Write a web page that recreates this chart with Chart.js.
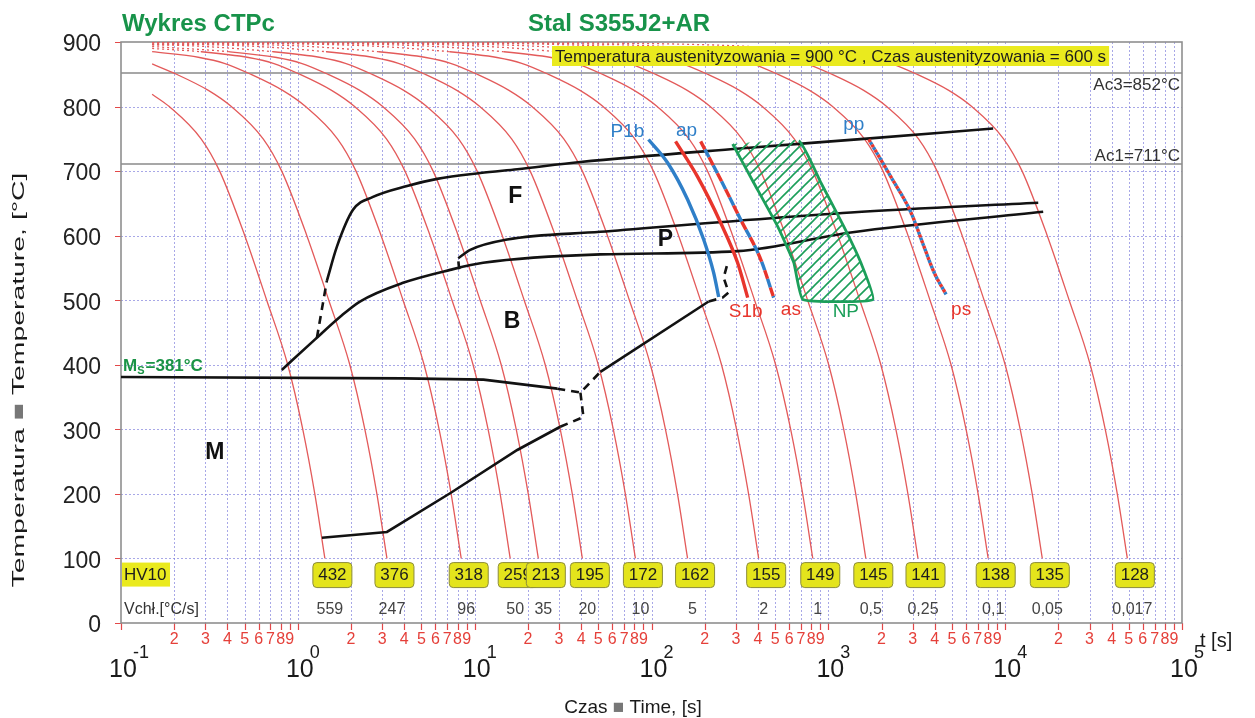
<!DOCTYPE html>
<html lang="pl">
<head>
<meta charset="utf-8">
<title>Wykres CTPc - Stal S355J2+AR</title>
<style>
  html, body { margin: 0; padding: 0; background: #fff; }
  #chart { display: block; }
</style>
</head>
<body>
<canvas id="chart" width="1255" height="718"></canvas>
<script src="https://cdn.jsdelivr.net/npm/chart.js"></script>
<script>
// ---- data: points are [log10(t [s]), T [°C]] ----
const c432 = [[-0.824,819],[-0.727,800],[-0.547,750],[-0.442,700],[-0.300,600],[-0.176,500],[-0.057,400],[0.028,300],[0.096,200],[0.153,100]];
const c376 = [[-0.824,866],[-0.686,850],[-0.506,825],[-0.376,800],[-0.196,750],[-0.091,700],[0.051,600],[0.175,500],[0.294,400],[0.379,300],[0.447,200],[0.504,100]];
const c318 = [[-0.824,885],[-0.556,876],[-0.416,867],[-0.266,850],[-0.086,825],[0.044,800],[0.224,750],[0.329,700],[0.471,600],[0.595,500],[0.714,400],[0.799,300],[0.867,200],[0.924,100]];
const c259 = [[-0.824,890],[-0.549,885],[-0.279,876],[-0.139,867],[0.011,850],[0.191,825],[0.321,800],[0.501,750],[0.606,700],[0.748,600],[0.872,500],[0.991,400],[1.076,300],[1.144,200],[1.201,100]];
const c213 = [[-0.824,893],[-0.39,885],[-0.12,876],[0.02,867],[0.17,850],[0.35,825],[0.48,800],[0.66,750],[0.765,700],[0.907,600],[1.031,500],[1.15,400],[1.235,300],[1.303,200],[1.36,100]];
const c195 = [[-0.824,895.4],[-0.691,895],[-0.141,885],[0.129,876],[0.269,867],[0.419,850],[0.599,825],[0.729,800],[0.909,750],[1.014,700],[1.156,600],[1.28,500],[1.399,400],[1.484,300],[1.552,200],[1.609,100]];
const c172 = [[-0.824,896.3],[-0.391,895],[0.159,885],[0.429,876],[0.569,867],[0.719,850],[0.899,825],[1.029,800],[1.209,750],[1.314,700],[1.456,600],[1.58,500],[1.699,400],[1.784,300],[1.852,200],[1.909,100]];
const c162 = [[-0.824,897.2],[-0.096,895],[0.454,885],[0.724,876],[0.864,867],[1.014,850],[1.194,825],[1.324,800],[1.504,750],[1.609,700],[1.751,600],[1.875,500],[1.994,400],[2.079,300],[2.147,200],[2.204,100]];
const c155 = [[-0.824,898.5],[0.306,895],[0.856,885],[1.126,876],[1.266,867],[1.416,850],[1.596,825],[1.726,800],[1.906,750],[2.011,700],[2.153,600],[2.277,500],[2.396,400],[2.481,300],[2.549,200],[2.606,100]];
const c149 = [[-0.824,899.6],[-0.688,899],[0.612,895],[1.162,885],[1.432,876],[1.572,867],[1.722,850],[1.902,825],[2.032,800],[2.212,750],[2.317,700],[2.459,600],[2.583,500],[2.702,400],[2.787,300],[2.855,200],[2.912,100]];
const c145 = [[-0.824,899.7],[-0.388,899],[0.912,895],[1.462,885],[1.732,876],[1.872,867],[2.022,850],[2.202,825],[2.332,800],[2.512,750],[2.617,700],[2.759,600],[2.883,500],[3.002,400],[3.087,300],[3.155,200],[3.212,100]];
const c141 = [[-0.824,899.8],[-0.093,899],[1.207,895],[1.757,885],[2.027,876],[2.167,867],[2.317,850],[2.497,825],[2.627,800],[2.807,750],[2.912,700],[3.054,600],[3.178,500],[3.297,400],[3.382,300],[3.45,200],[3.507,100]];
const c138 = [[-0.824,899.8],[0.304,899],[1.604,895],[2.154,885],[2.424,876],[2.564,867],[2.714,850],[2.894,825],[3.024,800],[3.204,750],[3.309,700],[3.451,600],[3.575,500],[3.694,400],[3.779,300],[3.847,200],[3.904,100]];
const c135 = [[-0.824,899.9],[0.61,899],[1.91,895],[2.46,885],[2.73,876],[2.87,867],[3.02,850],[3.2,825],[3.33,800],[3.51,750],[3.615,700],[3.757,600],[3.881,500],[4.0,400],[4.085,300],[4.153,200],[4.21,100]];
const c128 = [[-0.824,899.9],[1.091,899],[2.391,895],[2.941,885],[3.211,876],[3.351,867],[3.501,850],[3.681,825],[3.811,800],[3.991,750],[4.096,700],[4.238,600],[4.362,500],[4.481,400],[4.566,300],[4.634,200],[4.691,100]];
const coolingCurves = [c432, c376, c318, c259, c213, c195, c172, c162, c155, c149, c145, c141, c138, c135, c128];
const hardnessHV10 = ['432','376','318','259','213','195','172','162','155','149','145','141','138','135','128'];
const coolingRates = ['559','247','96','50','35','20','10','5','2','1','0,5','0,25','0,1','0,05','0,017'];

// transformation lines
const msLine    = [[-1,381],[0.6,379],[1.05,377],[1.467,363]];
const msDashed  = [[1.467,363],[1.598,357],[1.711,389]];
const bfLine    = [[1.711,389],[2.323,498]];
const bfDashed  = [[2.323,498],[2.402,504],[2.436,512],[2.408,535],[2.431,558]];
const lowLine   = [[0.136,132],[0.504,141],[0.861,201],[1.241,268],[1.484,304]];
const lowDashed = [[1.484,304],[1.615,319],[1.598,357]];
const bsLine    = [[-0.091,392],[0.096,439],[0.238,474],[0.351,498],[0.595,527],[0.861,547],[1.048,558],[1.711,571],[2.487,576],[3.127,605],[4.215,637]];
const pLine     = [[0.907,565],[0.975,578],[1.184,594],[1.711,606],[3.127,636],[4.187,651]];
const pDashed   = [[0.913,548],[0.907,562]];
const fLine     = [[0.164,530],[0.221,583],[0.312,640],[0.425,660],[0.618,677],[0.788,688],[1.031,697],[1.241,703],[1.598,714],[2.5,735],[3.2,750],[3.932,766]];
const fDashed   = [[0.108,442],[0.164,530]];

// toughness / structure lines
const p1bLine = [[1.983,749],[2.091,713],[2.204,656],[2.295,594],[2.351,543],[2.380,505]];
const s1bLine = [[2.136,746],[2.261,691],[2.391,620],[2.487,558],[2.544,504]];
const apLine  = [[2.278,746],[2.391,687],[2.504,625],[2.618,563],[2.691,504]];
const npLeft  = [[2.459,742],[2.578,682],[2.714,614],[2.805,558],[2.856,501]];
const npRight = [[3.252,501],[3.184,558],[3.088,614],[2.958,682],[2.833,747]];
const ppLine  = [[3.229,749],[3.354,691],[3.467,636],[3.541,583],[3.598,543],[3.666,509]];

const acLevels = [852, 711];
const acLabels = ['Ac3=852°C', 'Ac1=711°C'];

const regionLabels = [
  ['F', 1.229, 660, '#111'], ['P', 2.079, 594, '#111'], ['B', 1.212, 467, '#111'], ['M', -0.47, 264, '#111'],
  ['P1b', 1.864, 761, '#2f7fc8'], ['ap', 2.198, 763, '#2f7fc8'], ['pp', 3.144, 772, '#2f7fc8'],
  ['S1b', 2.533, 482, '#e8352c'], ['as', 2.788, 485, '#e8352c'], ['NP', 3.099, 482, '#1c9f5a'], ['ps', 3.751, 485, '#e8352c']
];

// ---- helpers ----
const FONT = '"Liberation Sans", Arial, Helvetica, sans-serif';
const RED = '#e35a5a';
function pts(arr) { return arr.map(p => ({ x: Math.pow(10, p[0]), y: p[1] })); }
function lineSet(arr, color, width, extra) {
  return Object.assign({ data: pts(arr), borderColor: color, borderWidth: width, pointRadius: 0,
    fill: false, cubicInterpolationMode: 'monotone' }, extra || {});
}

function hatchPattern() {
  const c = document.createElement('canvas');
  c.width = 11; c.height = 11;
  const g = c.getContext('2d');
  g.strokeStyle = '#1c9f5a';
  g.lineWidth = 1.6;
  g.beginPath();
  g.moveTo(0, 11); g.lineTo(11, 0);
  g.moveTo(-2, 2); g.lineTo(2, -2);
  g.moveTo(9, 13); g.lineTo(13, 9);
  g.stroke();
  return g.createPattern(c, 'repeat');
}

const datasets = [];
// coloured structure lines on top
datasets.push(lineSet(p1bLine, '#2f7fc8', 3.4, { order: 0 }));
datasets.push(lineSet(s1bLine, '#e8352c', 3.4, { order: 0 }));
datasets.push(lineSet(apLine, '#e8352c', 3.4, { order: 0, borderDash: [9, 9] }));
datasets.push(lineSet(apLine, '#2f7fc8', 3.4, { order: 0, borderDash: [9, 9], borderDashOffset: 9 }));
datasets.push(lineSet(ppLine, '#e8352c', 3.4, { order: 0, borderDash: [3, 3] }));
datasets.push(lineSet(ppLine, '#2f7fc8', 3.4, { order: 0, borderDash: [3, 3], borderDashOffset: 3 }));
const npShape = npLeft.concat(npRight, [npLeft[0]]);
datasets.push({
  data: pts(npShape), borderColor: '#1c9f5a', borderWidth: 2.8, pointRadius: 0, tension: 0.12,
  fill: 'shape', backgroundColor: hatchPattern(), order: 1,
  segment: { borderColor: ctx => ctx.p1DataIndex === npShape.length - 1 ? 'rgba(0,0,0,0)' : undefined }
});
// black transformation lines
const BLACK = '#121212';
[bsLine, pLine, fLine].forEach(a => datasets.push(lineSet(a, BLACK, 2.6, { order: 2 })));
[msLine, bfLine, lowLine].forEach(a => datasets.push(lineSet(a, BLACK, 2.6,
  { order: 2, cubicInterpolationMode: 'default', tension: 0 })));
[msDashed, bfDashed, lowDashed, pDashed, fDashed].forEach(a => datasets.push(lineSet(a, BLACK, 2.6,
  { order: 2, borderDash: [8, 6], cubicInterpolationMode: 'default', tension: 0 })));
// red cooling curves underneath
coolingCurves.forEach(a => datasets.push(lineSet(a, RED, 1.3, {
  order: 3,
  segment: { borderDash: ctx => (ctx.p0.parsed.y >= 884 && ctx.p1.parsed.y >= 884) ? [2, 3] : undefined }
})));

// ---- plugins ----
const background = {
  id: 'background',
  beforeDatasetsDraw(chart) {
    const { ctx, chartArea: a, scales: { x, y } } = chart;
    ctx.save();
    ctx.lineWidth = 1;
    ctx.strokeStyle = 'rgba(110,110,215,0.6)';
    ctx.setLineDash([2, 2]);
    ctx.beginPath();
    for (let e = -1; e < 5; e++) {
      for (let m = 1; m < 10; m++) {
        if (e === -1 && m === 1) continue;
        const xx = Math.round(x.getPixelForValue(m * Math.pow(10, e))) + 0.5;
        ctx.moveTo(xx, a.top); ctx.lineTo(xx, a.bottom);
      }
    }
    for (let T = 100; T < 900; T += 100) {
      const yy = Math.round(y.getPixelForValue(T)) + 0.5;
      ctx.moveTo(a.left, yy); ctx.lineTo(a.right, yy);
    }
    ctx.stroke();
    ctx.setLineDash([]);

    // red tick marks
    ctx.strokeStyle = '#e34848';
    ctx.lineWidth = 1.2;
    ctx.beginPath();
    for (let T = 0; T <= 900; T += 100) {
      const yy = Math.round(y.getPixelForValue(T)) + 0.5;
      ctx.moveTo(a.left - 6, yy); ctx.lineTo(a.left, yy);
    }
    for (let e = -1; e <= 5; e++) {
      for (let m = 1; m < 10; m++) {
        if (e === 5 && m > 1) break;
        const xx = Math.round(x.getPixelForValue(m * Math.pow(10, e))) + 0.5;
        ctx.moveTo(xx, a.bottom); ctx.lineTo(xx, a.bottom + 7);
      }
    }
    ctx.stroke();

    // Ac lines
    ctx.strokeStyle = '#8a8a8a';
    ctx.lineWidth = 1.5;
    ctx.beginPath();
    acLevels.forEach(T => { const yy = y.getPixelForValue(T); ctx.moveTo(a.left, yy); ctx.lineTo(a.right, yy); });
    ctx.stroke();

    // frame
    ctx.strokeStyle = '#8f8f8f';
    ctx.lineWidth = 1.6;
    ctx.strokeRect(a.left, a.top, a.right - a.left, a.bottom - a.top);
    ctx.restore();
  }
};

function roundRect(ctx, x, y, w, h, r) {
  ctx.beginPath();
  ctx.moveTo(x + r, y); ctx.lineTo(x + w - r, y); ctx.quadraticCurveTo(x + w, y, x + w, y + r);
  ctx.lineTo(x + w, y + h - r); ctx.quadraticCurveTo(x + w, y + h, x + w - r, y + h);
  ctx.lineTo(x + r, y + h); ctx.quadraticCurveTo(x, y + h, x, y + h - r);
  ctx.lineTo(x, y + r); ctx.quadraticCurveTo(x, y, x + r, y);
  ctx.closePath();
}

const overlay = {
  id: 'overlay',
  afterDatasetsDraw(chart) {
    const { ctx, chartArea: a, scales: { x, y } } = chart;
    ctx.save();
    // header box
    ctx.font = '17px ' + FONT;
    const head = 'Temperatura austenityzowania = 900 °C , Czas austenityzowania = 600 s';
    const hw = ctx.measureText(head).width;
    ctx.fillStyle = '#eaea1e';
    ctx.fillRect(a.left + 431, a.top + 4, hw + 6, 20);
    ctx.fillStyle = '#1d1d1d';
    ctx.textBaseline = 'middle';
    ctx.textAlign = 'left';
    ctx.fillText(head, a.left + 434, a.top + 15);

    // Ac labels
    ctx.font = '17px ' + FONT;
    ctx.fillStyle = '#333';
    ctx.textAlign = 'right';
    ctx.textBaseline = 'alphabetic';
    ctx.fillText(acLabels[0], a.right - 2, y.getPixelForValue(acLevels[0]) + 17);
    ctx.fillText(acLabels[1], a.right - 2, y.getPixelForValue(acLevels[1]) - 3);

    // region / line labels
    ctx.textAlign = 'center';
    ctx.textBaseline = 'middle';
    regionLabels.forEach(([s, lt, T, col]) => {
      ctx.font = (col === '#111' ? '600 23px ' : '19px ') + FONT;
      ctx.fillStyle = col;
      ctx.fillText(s, x.getPixelForValue(Math.pow(10, lt)), y.getPixelForValue(T));
    });

    // Ms label
    const msY = y.getPixelForValue(381) - 6;
    ctx.textAlign = 'left';
    ctx.textBaseline = 'alphabetic';
    ctx.fillStyle = '#1a9346';
    ctx.font = 'bold 17px ' + FONT;
    ctx.fillText('M', a.left + 2, msY);
    let mx = a.left + 2 + ctx.measureText('M').width;
    ctx.font = 'bold 11px ' + FONT;
    ctx.fillText('S', mx, msY + 3);
    mx += ctx.measureText('S').width + 1;
    ctx.font = 'bold 17px ' + FONT;
    ctx.fillText('=381°C', mx, msY);

    // HV10 row
    const boxY = y.getPixelForValue(75);
    ctx.fillStyle = '#eaea1e';
    ctx.fillRect(a.left + 1, boxY - 12, 48, 24);
    ctx.fillStyle = '#1d1d1d';
    ctx.font = '17px ' + FONT;
    ctx.textBaseline = 'middle';
    ctx.fillText('HV10', a.left + 3, boxY + 1);
    ctx.fillStyle = '#333';
    ctx.font = '16px ' + FONT;
    ctx.fillText('Vchł.[°C/s]', a.left + 3, y.getPixelForValue(21));

    coolingCurves.forEach((c, i) => {
      const end = c[c.length - 1];
      const cx = x.getPixelForValue(Math.pow(10, end[0]));
      roundRect(ctx, cx - 12, boxY - 12, 39, 25, 4);
      ctx.fillStyle = '#e4e41c';
      ctx.fill();
      ctx.strokeStyle = '#8c8c3c';
      ctx.lineWidth = 1;
      ctx.stroke();
      ctx.fillStyle = '#1d1d1d';
      ctx.font = '17px ' + FONT;
      ctx.textAlign = 'center';
      ctx.fillText(hardnessHV10[i], cx + 7.5, boxY + 1);
      ctx.fillStyle = '#444';
      ctx.font = '16px ' + FONT;
      ctx.fillText(coolingRates[i], cx + 5, y.getPixelForValue(21));
    });
    ctx.restore();
  },
  afterDraw(chart) {
    const { ctx, chartArea: a, scales: { x, y } } = chart;
    ctx.save();
    // titles
    ctx.fillStyle = '#18934a';
    ctx.font = 'bold 24px ' + FONT;
    ctx.textBaseline = 'alphabetic';
    ctx.textAlign = 'left';
    ctx.fillText('Wykres CTPc', a.left + 1, 31);
    ctx.fillText('Stal S355J2+AR', 528, 31);

    // y tick labels
    ctx.fillStyle = '#222';
    ctx.font = '23px ' + FONT;
    ctx.textAlign = 'right';
    ctx.textBaseline = 'middle';
    for (let T = 0; T <= 900; T += 100) ctx.fillText(String(T), a.left - 20, y.getPixelForValue(T) + 3);

    // x tick labels
    for (let e = -1; e <= 5; e++) {
      const xx = x.getPixelForValue(Math.pow(10, e));
      ctx.fillStyle = '#1a1a1a';
      ctx.textBaseline = 'alphabetic';
      ctx.font = '25px ' + FONT;
      ctx.textAlign = 'center';
      ctx.fillText('10', xx + 2, a.bottom + 54);
      ctx.font = '18px ' + FONT;
      ctx.textAlign = 'left';
      ctx.fillText(String(e), xx + 12, a.bottom + 35);
      if (e < 5) {
        ctx.fillStyle = '#e5403a';
        ctx.font = '16px ' + FONT;
        ctx.textAlign = 'center';
        for (let m = 2; m < 10; m++) ctx.fillText(String(m), x.getPixelForValue(m * Math.pow(10, e)), a.bottom + 21);
      }
    }
    ctx.fillStyle = '#1a1a1a';
    ctx.font = '20px ' + FONT;
    ctx.textAlign = 'left';
    ctx.fillText('t [s]', a.right + 18, a.bottom + 24);

    // axis titles
    function partsWidth(parts) { return parts.reduce((s, p) => s + ctx.measureText(p[0]).width, 0); }
    function drawParts(parts, x0, yb) {
      let cx = x0;
      parts.forEach(([s, col]) => { ctx.fillStyle = col; ctx.fillText(s, cx, yb); cx += ctx.measureText(s).width; });
    }
    ctx.font = '19px ' + FONT;
    ctx.textAlign = 'left';
    ctx.textBaseline = 'alphabetic';
    const xt = [['Czas ', '#1a1a1a'], ['■', '#777'], [' Time, [s]', '#1a1a1a']];
    drawParts(xt, 633 - partsWidth(xt) / 2, 713);

    const yt = [['Temperatura ', '#1a1a1a'], ['■', '#777'], [' Temperature, [°C]', '#1a1a1a']];
    ctx.font = '17px ' + FONT;
    const yw = partsWidth(yt);
    ctx.translate(24, 380);
    ctx.rotate(-Math.PI / 2);
    ctx.scale(415 / yw, 1);
    drawParts(yt, -yw / 2, 0);
    ctx.restore();
  }
};

new Chart(document.getElementById('chart'), {
  type: 'line',
  data: { datasets: datasets },
  options: {
    responsive: false,
    animation: false,
    devicePixelRatio: 1,
    layout: { padding: { left: 121, right: 73, top: 42, bottom: 95 } },
    plugins: { legend: { display: false }, tooltip: { enabled: false } },
    elements: { line: { borderCapStyle: 'butt' } },
    scales: {
      x: { type: 'logarithmic', min: 0.1, max: 100000, display: false },
      y: { type: 'linear', min: 0, max: 900, display: false }
    }
  },
  plugins: [background, overlay]
});
</script>
</body>
</html>
